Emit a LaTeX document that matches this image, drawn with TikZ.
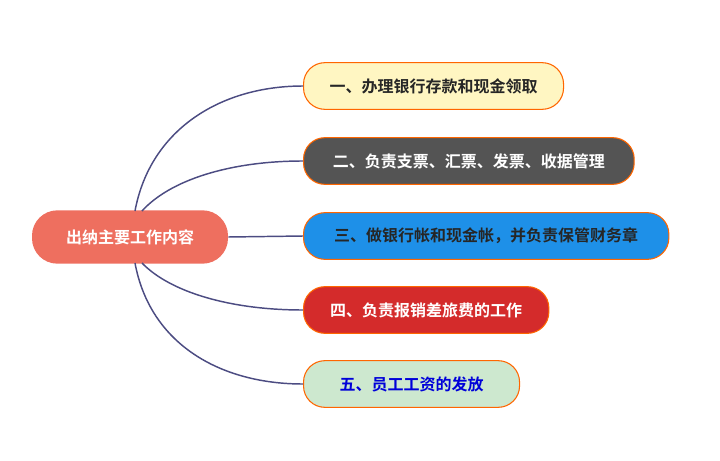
\documentclass[tikz,border=0pt]{standalone}
\usepackage{fontspec}
\setmainfont{Noto Sans CJK SC Bold}
\begin{document}
\begin{tikzpicture}[x=0.75pt,y=-0.75pt,
 leaf/.style={rounded corners=16pt,draw=orange!80!red,line width=0.8pt,minimum height=35pt,anchor=west,inner xsep=10pt,font=\fontsize{12}{14}\selectfont},
 link/.style={draw=black!70!blue!70,line width=1.1pt}]
\useasboundingbox (0,0) rectangle (720,460);
\definecolor{yel}{HTML}{FFF6C2}\definecolor{blu}{HTML}{1E90E8}\definecolor{rd}{HTML}{D42B2B}\definecolor{grn}{HTML}{CDE8CF}\definecolor{rt}{HTML}{EE6F5F}
\node[fill=rt,text=white,rounded corners=19pt,minimum width=147pt,minimum height=40pt,font=\fontsize{12}{14}\selectfont] (root) at (130,237) {出纳主要工作内容};
\node[leaf,fill=yel,text=black!85,minimum width=195pt] (a) at (303,86) {一、办理银行存款和现金领取};
\node[leaf,fill=black!67,text=white,minimum width=248pt] (b) at (303,161) {二、负责支票、汇票、发票、收据管理};
\node[leaf,fill=blu,text=black!85,minimum width=274pt] (c) at (303,236) {三、做银行帐和现金帐，并负责保管财务章};
\node[leaf,fill=rd,text=white,minimum width=184pt] (d) at (303,310) {四、负责报销差旅费的工作};
\node[leaf,fill=grn,text=blue!85!black,minimum width=162pt] (e) at (303,384) {五、员工工资的发放};
\coordinate (t1) at (135,211);\coordinate (t2) at (142,211);
\coordinate (b1) at (135,263);\coordinate (b2) at (142,263);
\draw[link] (t1) .. controls (150,130) and (220,86) .. (a.west);
\draw[link] (t2) .. controls (170,180) and (230,161) .. (b.west);
\draw[link] (root.east) -- (c.west);
\draw[link] (b2) .. controls (170,292) and (230,310) .. (d.west);
\draw[link] (b1) .. controls (150,344) and (220,384) .. (e.west);
\end{tikzpicture}
\end{document}
